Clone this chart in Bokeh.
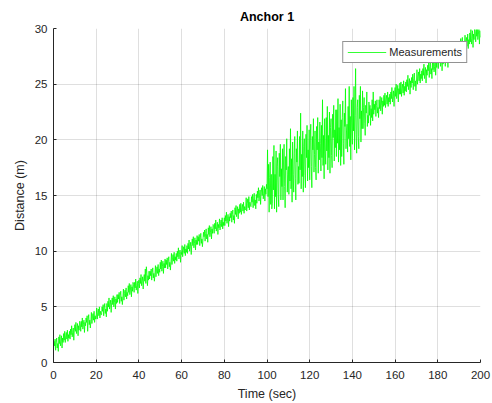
import numpy as np
from bokeh.plotting import figure
from bokeh.models import ColumnDataSource, Range1d, Legend, LegendItem, FixedTicker
from bokeh.embed import file_html
from bokeh.resources import INLINE

# Range measurements to anchor 1, one sample every 0.25 s (one row = 10 s)
sample_period = 0.25
distance = [
    # 0 - 10 s
    1.2, 1.9, 1.5, 2.1, 1.1, 1.8, 2.2, 1.3, 1.7, 1.0, 2.3, 1.7, 2.5, 1.5, 1.9, 2.4, 1.3, 2.2, 1.8, 2.6,
    2.0, 2.8, 1.8, 2.4, 2.7, 2.1, 2.9, 1.9, 2.5, 2.2, 2.8, 2.1, 3.0, 2.5, 3.3, 2.3, 2.7, 3.1, 2.0, 2.9,
    # 10 - 20 s
    3.4, 2.8, 3.6, 2.6, 3.0, 3.5, 2.4, 3.3, 2.9, 3.7, 3.5, 2.8, 3.7, 3.2, 4.0, 3.0, 3.4, 3.8, 2.7, 3.6,
    3.3, 4.0, 3.6, 4.2, 2.8, 3.9, 4.3, 3.4, 3.8, 3.1, 3.7, 4.5, 3.5, 4.1, 4.4, 3.8, 4.6, 3.6, 4.2, 3.9,
    # 20 - 30 s
    4.1, 4.9, 3.9, 4.5, 4.8, 4.2, 5.0, 4.0, 4.6, 4.3, 4.3, 5.0, 4.6, 5.2, 4.2, 4.9, 5.3, 4.4, 4.8, 4.1,
    5.3, 4.6, 5.5, 5.0, 5.8, 4.8, 5.2, 5.6, 4.5, 5.4, 5.8, 5.2, 6.0, 5.0, 5.4, 5.9, 4.8, 5.7, 5.3, 6.1,
    # 30 - 40 s
    5.4, 6.1, 5.7, 6.3, 5.3, 6.0, 6.4, 5.5, 5.9, 5.2, 5.8, 6.6, 5.6, 6.2, 6.5, 5.9, 6.7, 5.7, 6.3, 6.0,
    6.9, 6.3, 7.1, 6.1, 6.5, 7.0, 5.9, 6.8, 6.4, 7.2, 7.0, 6.3, 7.2, 6.7, 7.5, 6.5, 6.9, 7.3, 6.2, 7.1,
    # 40 - 50 s
    7.4, 6.7, 7.6, 7.1, 7.9, 6.9, 7.3, 7.7, 6.6, 7.5, 7.9, 7.3, 8.4, 7.1, 8.6, 8.0, 6.9, 7.8, 7.4, 8.2,
    7.5, 8.2, 7.8, 8.4, 7.4, 8.1, 8.5, 7.6, 8.0, 7.3, 7.9, 8.7, 7.7, 8.3, 8.6, 8.0, 8.8, 7.8, 8.4, 8.1,
    # 50 - 60 s
    9.0, 8.4, 9.2, 8.2, 8.6, 9.1, 8.0, 8.9, 8.5, 9.3, 8.5, 9.2, 8.8, 9.4, 8.4, 9.1, 9.5, 8.6, 9.0, 8.3,
    9.0, 9.8, 8.8, 9.4, 9.7, 9.1, 9.9, 8.9, 9.5, 9.2, 9.8, 9.1, 10.0, 9.5, 10.3, 9.3, 9.7, 10.1, 9.0, 9.9,
    # 60 - 70 s
    9.7, 10.5, 9.5, 10.1, 10.4, 9.8, 10.6, 9.6, 10.2, 9.9, 10.5, 9.8, 10.7, 10.2, 11.0, 10.0, 10.4, 10.8, 9.7, 10.6,
    11.1, 10.5, 11.3, 10.3, 10.7, 11.2, 10.1, 11.0, 10.6, 11.4, 10.6, 11.3, 10.9, 11.5, 10.5, 11.2, 11.6, 10.7, 11.1, 10.4,
    # 70 - 80 s
    11.0, 11.7, 11.3, 11.9, 10.9, 11.6, 12.0, 11.1, 11.5, 10.8, 12.1, 11.5, 12.3, 11.3, 11.7, 12.2, 11.1, 12.0, 11.6, 12.4,
    12.3, 11.6, 12.5, 12.0, 12.8, 11.8, 12.2, 12.6, 11.5, 12.4, 12.1, 12.9, 11.9, 12.5, 12.8, 12.2, 13.0, 12.0, 12.6, 12.3,
    # 80 - 90 s
    13.0, 12.3, 13.2, 12.7, 13.5, 12.5, 12.9, 13.3, 12.2, 13.1, 12.7, 13.4, 13.0, 13.6, 12.6, 13.3, 13.7, 12.8, 13.2, 12.5,
    13.9, 13.3, 14.1, 13.1, 13.5, 14.0, 12.9, 13.8, 13.4, 14.2, 13.5, 14.3, 13.3, 13.9, 14.2, 13.6, 14.4, 13.4, 14.0, 13.7,
    # 90 - 100 s
    13.8, 14.8, 13.6, 14.3, 14.7, 13.9, 14.9, 13.7, 14.4, 14.1, 14.0, 14.9, 14.4, 15.1, 13.9, 14.7, 15.2, 14.1, 14.6, 13.8,
    15.1, 14.3, 15.4, 14.8, 15.7, 14.5, 15.0, 15.5, 14.2, 15.3, 15.7, 15.0, 15.9, 14.7, 15.2, 15.8, 14.5, 15.6, 15.1, 16.0,
    # 100 - 110 s
    15.6, 19.1, 14.9, 17.8, 13.5, 16.6, 18.0, 14.2, 16.9, 13.8, 14.3, 18.5, 15.5, 19.5, 13.8, 16.9, 14.9, 19.0, 13.5, 17.6,
    18.4, 15.1, 14.0, 18.8, 16.7, 19.6, 14.6, 17.4, 15.8, 19.2, 14.6, 18.1, 19.6, 15.8, 13.9, 18.5, 17.3, 20.1, 15.3, 16.9,
    # 110 - 120 s
    17.6, 15.1, 19.2, 16.3, 21.0, 15.6, 18.3, 14.4, 19.8, 16.9, 15.3, 18.8, 20.3, 16.5, 14.6, 19.2, 18.0, 20.8, 16.0, 17.6,
    16.1, 20.3, 17.3, 22.4, 15.6, 18.7, 16.7, 20.8, 15.3, 19.4, 20.1, 16.8, 15.7, 20.5, 18.4, 21.3, 16.3, 19.1, 17.5, 20.9,
    # 120 - 130 s
    16.4, 19.9, 21.4, 17.6, 15.7, 20.3, 19.1, 21.9, 17.1, 18.7, 20.8, 17.5, 16.4, 21.2, 19.1, 22.0, 17.0, 19.8, 18.2, 21.6,
    19.7, 17.2, 21.3, 18.4, 23.6, 17.7, 20.4, 16.5, 21.9, 19.0, 17.8, 22.0, 19.0, 23.0, 17.3, 20.4, 18.4, 22.5, 17.0, 21.1,
    # 130 - 140 s
    21.9, 18.6, 17.5, 22.3, 20.2, 23.1, 18.1, 20.9, 19.3, 22.7, 18.5, 22.7, 19.7, 23.7, 18.0, 21.1, 19.1, 23.2, 17.7, 21.8,
    18.5, 22.0, 23.5, 19.7, 17.8, 22.4, 21.2, 24.6, 19.2, 20.8, 21.4, 18.9, 23.0, 20.1, 24.8, 19.4, 22.1, 18.2, 23.6, 20.7,
    # 140 - 150 s
    19.6, 23.8, 20.8, 24.8, 19.1, 22.2, 26.4, 20.5, 18.8, 22.9, 23.6, 20.3, 19.2, 24.0, 21.9, 24.8, 19.8, 22.6, 21.0, 24.4,
    21.0, 22.9, 23.8, 21.5, 20.4, 23.1, 22.4, 24.3, 21.2, 22.2, 21.5, 23.4, 22.2, 23.1, 21.3, 22.8, 22.0, 23.6, 21.7, 24.3,
    # 150 - 160 s
    22.3, 23.2, 22.7, 23.5, 22.1, 23.1, 23.6, 22.4, 22.9, 22.0, 23.6, 22.8, 23.9, 22.6, 23.1, 23.8, 22.3, 23.5, 23.0, 24.0,
    23.1, 24.2, 22.9, 23.6, 24.0, 23.2, 24.3, 23.0, 23.8, 23.4, 24.1, 23.2, 24.3, 23.7, 24.7, 23.4, 23.9, 24.4, 23.0, 24.2,
    # 160 - 170 s
    24.7, 23.9, 25.0, 23.7, 24.2, 24.9, 23.4, 24.6, 24.1, 25.1, 24.1, 25.2, 23.9, 24.6, 25.0, 24.2, 25.3, 24.0, 24.8, 24.4,
    25.2, 24.3, 25.4, 24.8, 25.8, 24.5, 25.0, 25.5, 24.1, 25.3, 24.7, 25.6, 25.1, 25.9, 24.5, 25.5, 26.0, 24.8, 25.3, 24.4,
    # 170 - 180 s
    25.2, 26.3, 25.0, 25.7, 26.1, 25.3, 26.4, 25.1, 25.9, 25.5, 26.2, 25.3, 26.4, 25.8, 26.8, 25.5, 26.0, 26.5, 25.1, 26.3,
    25.8, 26.7, 26.2, 27.0, 25.6, 26.6, 27.1, 25.9, 26.4, 25.5, 27.1, 26.3, 27.4, 26.1, 26.6, 27.3, 25.8, 27.0, 26.5, 27.5,
    # 180 - 190 s
    27.3, 26.4, 27.5, 26.9, 27.9, 26.6, 27.1, 27.6, 26.2, 27.4, 26.8, 27.7, 27.2, 28.0, 26.6, 27.6, 28.1, 26.9, 27.4, 26.5,
    28.2, 27.4, 28.5, 27.2, 27.7, 28.4, 26.9, 28.1, 27.6, 28.6, 27.6, 28.7, 27.4, 28.1, 28.5, 27.7, 28.8, 27.5, 28.3, 27.9,
    # 190 - 200 s
    27.9, 28.8, 28.3, 29.1, 27.7, 28.7, 29.2, 28.0, 28.5, 27.6, 28.3, 29.4, 28.1, 28.8, 29.2, 28.4, 29.5, 28.2, 29.0, 28.6,
    29.6, 28.8, 29.9, 28.6, 29.1, 29.8, 28.3, 29.5, 29.0, 29.9, 29.7, 28.8, 29.9, 29.3, 29.9, 29.0, 29.5, 29.9, 28.6, 29.8,
    29.2,
]
time = np.arange(len(distance)) * sample_period

x_ticks = [0, 20, 40, 60, 80, 100, 120, 140, 160, 180, 200]
y_ticks = [0, 5, 10, 15, 20, 25, 30]

FONT = "Liberation Sans"
INK = "#262626"

source = ColumnDataSource(data=dict(time=time, distance=distance))

p = figure(
    width=492, height=403,
    x_range=Range1d(0, 200), y_range=Range1d(0, 30),
    output_backend="svg", toolbar_location=None,
    min_border_left=53, min_border_right=12,
    min_border_top=28, min_border_bottom=40,
    title="Anchor 1",
)
p.background_fill_color = "white"
p.border_fill_color = "white"
p.outline_line_color = None

p.title.align = "center"
p.title.text_font = FONT
p.title.text_font_size = "12.5px"
p.title.text_font_style = "bold"
p.title.text_color = "black"
p.title.offset = 0

line = p.line("time", "distance", source=source, line_color="#00ff00", line_width=0.8)

for ax in (p.xaxis[0], p.yaxis[0]):
    ax.axis_line_color = INK
    ax.axis_line_width = 1
    ax.major_tick_line_color = INK
    ax.major_tick_in = 3
    ax.major_tick_out = 0
    ax.minor_tick_line_color = None
    ax.major_label_text_font = FONT
    ax.major_label_text_font_size = "11.5px"
    ax.major_label_text_color = INK
    ax.axis_label_text_font = FONT
    ax.axis_label_text_font_size = "12.5px"
    ax.axis_label_text_font_style = "normal"
    ax.axis_label_text_color = INK

p.xaxis.ticker = FixedTicker(ticks=x_ticks)
p.yaxis.ticker = FixedTicker(ticks=y_ticks)
p.xaxis.axis_label = "Time (sec)"
p.yaxis.axis_label = "Distance (m)"
p.xaxis.major_label_standoff = 8
p.xaxis.axis_label_standoff = 5
p.yaxis.major_label_standoff = 6
p.yaxis.axis_label_standoff = 5

p.grid.grid_line_color = INK
p.grid.grid_line_alpha = 0.15
p.grid.grid_line_width = 1

legend = Legend(
    items=[LegendItem(label="Measurements", renderers=[line])],
    location="top_right",
    margin=13, padding=4, spacing=0,
    glyph_width=39, glyph_height=12, label_height=12, label_standoff=3,
    label_text_font=FONT, label_text_font_size="11px", label_text_color=INK,
    border_line_color=INK, border_line_width=1,
    background_fill_color="white", background_fill_alpha=1,
)
p.add_layout(legend)

open("out.html", "w").write(file_html(p, INLINE))
